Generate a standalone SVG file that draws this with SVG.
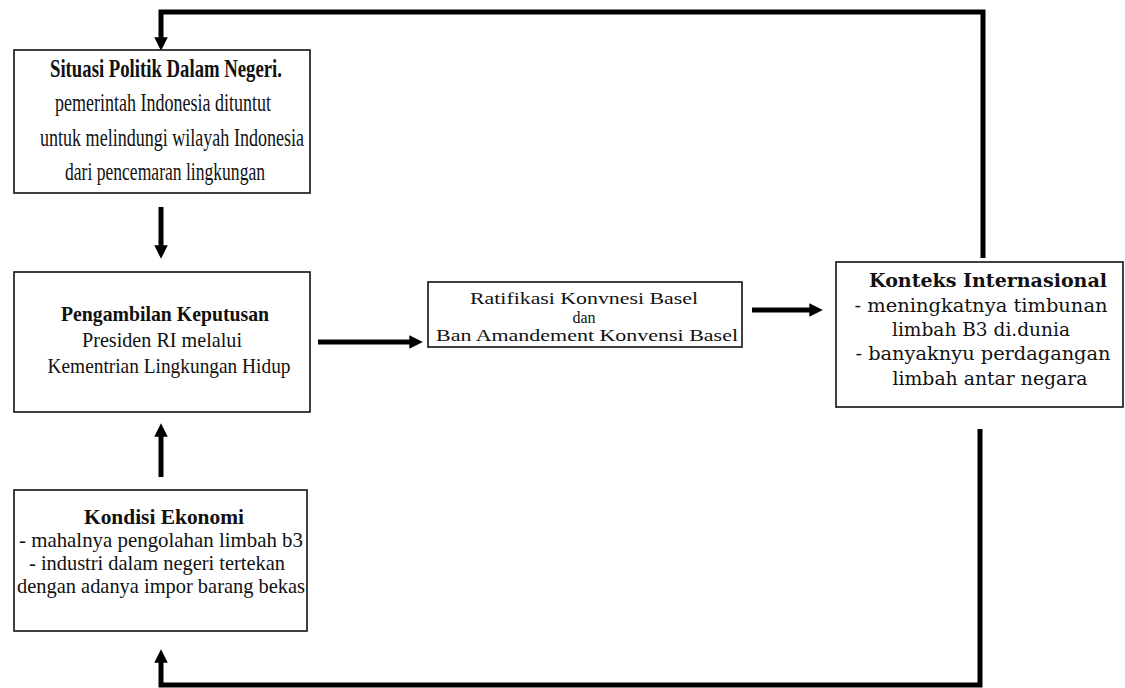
<svg xmlns="http://www.w3.org/2000/svg" width="1125" height="688" viewBox="0 0 1125 688">
<defs>
<style>
.box{fill:#fff;stroke:#111;stroke-width:1.6}
.ln{fill:none;stroke:#000;stroke-width:5}
.t{font-family:"Liberation Serif","Times New Roman",serif;fill:#111;text-anchor:middle}
.r{font-family:"DejaVu Serif","Liberation Serif",serif;fill:#111;text-anchor:middle}
.b{font-weight:bold}
</style>
<marker id="ah" viewBox="0 0 10 10" refX="2" refY="5" markerWidth="2.7" markerHeight="2.7" orient="auto" markerUnits="strokeWidth">
<path d="M0,0 L10,5 L0,10 Z" fill="#000"/>
</marker>
</defs>
<rect width="1125" height="688" fill="#fff"/>
<g id="connectors">
<polyline class="ln" points="983,258 983,12 161,12 161,40" marker-end="url(#ah)"/>
<line class="ln" x1="161" y1="207" x2="161" y2="248" marker-end="url(#ah)"/>
<line class="ln" x1="318" y1="342" x2="412" y2="342" marker-end="url(#ah)"/>
<line class="ln" x1="752" y1="310" x2="812" y2="310" marker-end="url(#ah)"/>
<polyline class="ln" points="980,429 980,685 161,685 161,660" marker-end="url(#ah)"/>
<line class="ln" x1="161" y1="477" x2="161" y2="434" marker-end="url(#ah)"/>
</g>
<g id="node-politik">
<rect class="box" x="14" y="50" width="296" height="143"/>
<text class="t b" x="166" y="77" font-size="25" textLength="232" lengthAdjust="spacingAndGlyphs">Situasi Politik Dalam Negeri.</text>
<text class="t" x="163" y="111" font-size="25" textLength="216" lengthAdjust="spacingAndGlyphs">pemerintah Indonesia dituntut</text>
<text class="t" x="172" y="146" font-size="25" textLength="264" lengthAdjust="spacingAndGlyphs">untuk melindungi wilayah Indonesia</text>
<text class="t" x="165" y="180" font-size="25" textLength="200" lengthAdjust="spacingAndGlyphs">dari pencemaran lingkungan</text>
</g>
<g id="node-keputusan">
<rect class="box" x="14" y="272" width="296" height="140"/>
<text class="t b" x="165" y="321" font-size="22" textLength="208" lengthAdjust="spacingAndGlyphs">Pengambilan Keputusan</text>
<text class="t" x="162" y="347" font-size="22" textLength="160" lengthAdjust="spacingAndGlyphs">Presiden RI melalui</text>
<text class="t" x="169" y="373" font-size="22" textLength="243" lengthAdjust="spacingAndGlyphs">Kementrian Lingkungan Hidup</text>
</g>
<g id="node-ekonomi">
<rect class="box" x="14" y="490" width="293" height="141"/>
<text class="t b" x="164" y="524" font-size="21" textLength="160" lengthAdjust="spacingAndGlyphs">Kondisi Ekonomi</text>
<text class="t" x="161" y="547" font-size="21" textLength="284" lengthAdjust="spacingAndGlyphs">- mahalnya pengolahan limbah b3</text>
<text class="t" x="157" y="570" font-size="21" textLength="256" lengthAdjust="spacingAndGlyphs">- industri dalam negeri tertekan</text>
<text class="t" x="161" y="593" font-size="21" textLength="288" lengthAdjust="spacingAndGlyphs">dengan adanya impor barang bekas</text>
</g>
<g id="node-ratifikasi">
<rect class="box" x="428" y="282" width="314" height="65"/>
<text class="t" x="584" y="304" font-size="16" textLength="228" lengthAdjust="spacingAndGlyphs">Ratifikasi Konvnesi Basel</text>
<text class="t" x="584" y="322.5" font-size="16">dan</text>
<text class="t" x="587" y="341" font-size="16" textLength="302" lengthAdjust="spacingAndGlyphs">Ban Amandement Konvensi Basel</text>
</g>
<g id="node-internasional">
<rect class="box" x="836" y="262" width="287" height="145"/>
<text class="r b" x="988" y="287" font-size="18" textLength="238" lengthAdjust="spacingAndGlyphs">Konteks Internasional</text>
<text class="r" x="981" y="312" font-size="18" textLength="253" lengthAdjust="spacingAndGlyphs">- meningkatnya timbunan</text>
<text class="r" x="981" y="336" font-size="18" textLength="178" lengthAdjust="spacingAndGlyphs">limbah B3 di.dunia</text>
<text class="r" x="983" y="360" font-size="18" textLength="255" lengthAdjust="spacingAndGlyphs">- banyaknyu perdagangan</text>
<text class="r" x="990" y="385" font-size="18" textLength="195" lengthAdjust="spacingAndGlyphs">limbah antar negara</text>
</g>
</svg>
